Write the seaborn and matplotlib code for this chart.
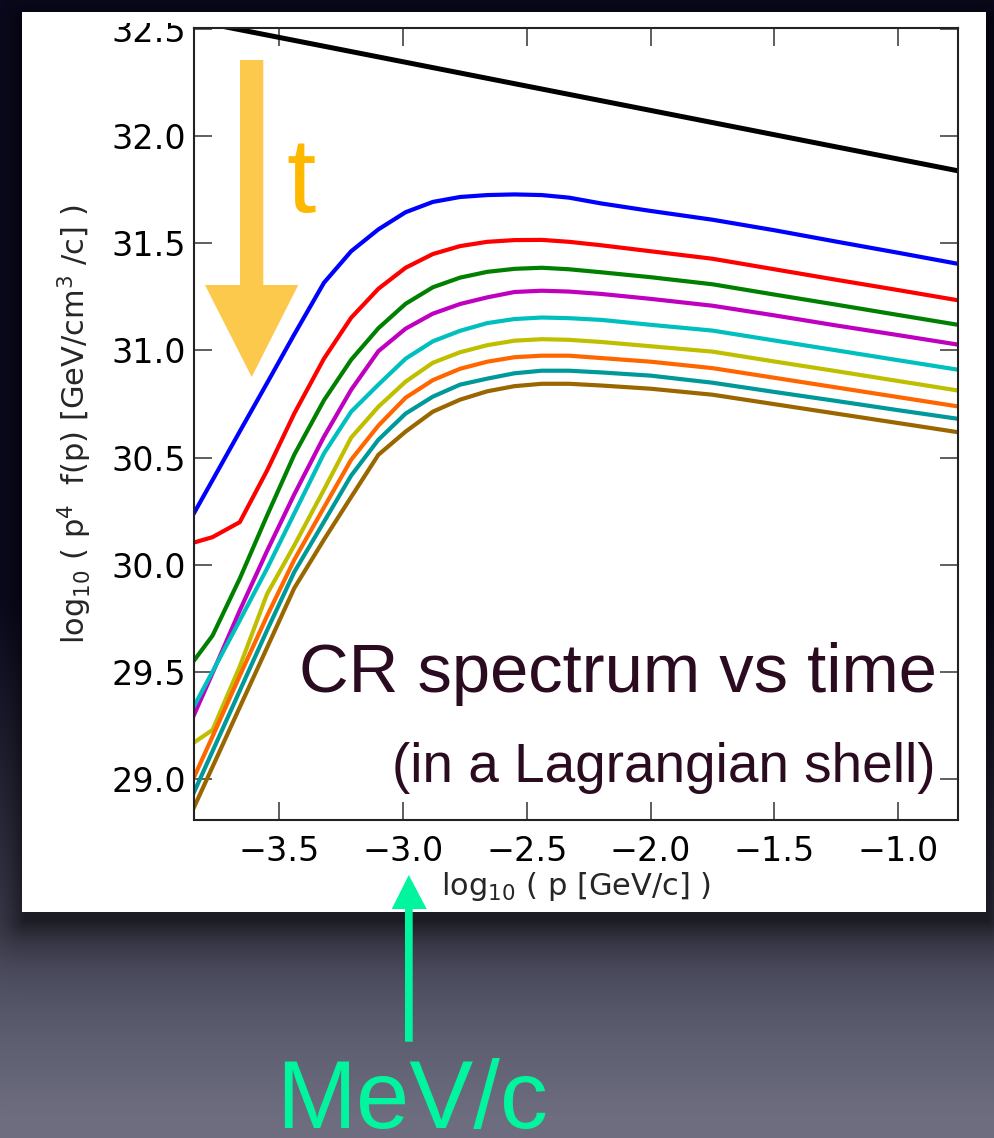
import numpy as np
import pandas as pd
import matplotlib
matplotlib.use("Agg")
import matplotlib.pyplot as plt
from matplotlib.patches import Polygon, Rectangle
import seaborn as sns

# ---------------- data ----------------
logp = [-3.88, -3.77, -3.66, -3.55, -3.44, -3.32, -3.21, -3.10, -2.99, -2.88, -2.77,
        -2.66, -2.55, -2.44, -2.33, -2.20, -2.00, -1.75, -1.50, -1.25, -1.00, -0.70]

blue = [30.169, 30.395, 30.622, 30.847, 31.074, 31.315, 31.462, 31.564, 31.644, 31.692, 31.715,
        31.724, 31.727, 31.724, 31.712, 31.685, 31.650, 31.609, 31.560, 31.507, 31.455, 31.391]
red = [30.092, 30.129, 30.199, 30.439, 30.705, 30.961, 31.152, 31.287, 31.385, 31.449, 31.486,
       31.506, 31.514, 31.515, 31.506, 31.490, 31.462, 31.427, 31.378, 31.329, 31.281, 31.222]
green = [29.499, 29.670, 29.936, 30.229, 30.513, 30.767, 30.956, 31.103, 31.217, 31.294, 31.339,
         31.366, 31.380, 31.385, 31.378, 31.364, 31.341, 31.308, 31.260, 31.213, 31.165, 31.108]
magenta = [29.209, 29.495, 29.787, 30.064, 30.328, 30.597, 30.816, 30.996, 31.101, 31.171, 31.216,
           31.247, 31.272, 31.278, 31.274, 31.263, 31.240, 31.208, 31.163, 31.116, 31.071, 31.016]
cyan = [29.265, 29.502, 29.741, 29.982, 30.239, 30.519, 30.714, 30.840, 30.961, 31.042, 31.091,
        31.127, 31.146, 31.153, 31.150, 31.142, 31.119, 31.092, 31.046, 31.000, 30.954, 30.899]
yellow = [29.144, 29.230, 29.526, 29.863, 30.090, 30.350, 30.593, 30.737, 30.854, 30.942, 30.991,
          31.024, 31.045, 31.052, 31.049, 31.039, 31.019, 30.994, 30.948, 30.903, 30.857, 30.802]
orange = [28.920, 29.200, 29.483, 29.761, 30.023, 30.267, 30.490, 30.649, 30.779, 30.861, 30.914,
          30.947, 30.968, 30.975, 30.975, 30.964, 30.947, 30.917, 30.872, 30.827, 30.782, 30.728]
teal = [28.850, 29.131, 29.413, 29.694, 29.966, 30.200, 30.416, 30.583, 30.705, 30.784, 30.840,
        30.868, 30.893, 30.905, 30.905, 30.897, 30.882, 30.849, 30.806, 30.764, 30.721, 30.671]
brown = [28.781, 29.058, 29.336, 29.613, 29.891, 30.117, 30.316, 30.513, 30.621, 30.714, 30.770,
         30.809, 30.833, 30.844, 30.844, 30.836, 30.821, 30.793, 30.749, 30.705, 30.661, 30.608]

black_x = [-3.88, -0.70]
black_y = [32.545, 31.824]

series_names = ["blue", "red", "green", "magenta", "cyan", "yellow", "orange", "teal", "brown"]
series_values = [blue, red, green, magenta, cyan, yellow, orange, teal, brown]
series_colors = ["#0000ff", "#ff0000", "#008000", "#bf00bf", "#00bfbf",
                 "#bfbf00", "#ff6600", "#009999", "#996600"]

x_ticks = [-3.5, -3.0, -2.5, -2.0, -1.5, -1.0]
y_ticks = [29.0, 29.5, 30.0, 30.5, 31.0, 31.5, 32.0, 32.5]

x_label = r"log$_{10}$ ( p [GeV/c] )"
y_label = r"log$_{10}$ ( p$^{4}$  f(p) [GeV/cm$^{3}$ /c] )"
title1 = "CR spectrum vs time"
title2 = "(in a Lagrangian shell)"
arrow_t = "t"
note = "MeV/c"

# ---------------- style ----------------
sns.set_style("ticks")
plt.rcParams["font.family"] = ["DejaVu Sans"]
plt.rcParams["mathtext.default"] = "regular"
plt.rcParams["axes.unicode_minus"] = True

W, H = 994, 1138
fig = plt.figure(figsize=(W / 100, H / 100), dpi=100)
fig.patch.set_facecolor("white")

# main axes
L, R, T, B = 194, 958, 28, 820
ax = fig.add_axes([L / W, 1 - B / H, (R - L) / W, (B - T) / H], zorder=1)
ax.set_facecolor("white")

rows = []
for name, vals in zip(series_names, series_values):
    for xv, yv in zip(logp, vals):
        rows.append({"logp": xv, "value": yv, "series": name})
df = pd.DataFrame(rows)

sns.lineplot(x=black_x, y=black_y, color="black", lw=3.6, ax=ax)
sns.lineplot(data=df, x="logp", y="value", hue="series", hue_order=series_names,
             palette=dict(zip(series_names, series_colors)), estimator=None, sort=False,
             lw=3.0, legend=False, ax=ax)

ax.set_xlim(-3.845, -0.758)
ax.set_ylim(28.81, 32.503)
ax.set_xticks(x_ticks)
ax.set_yticks(y_ticks)
ax.set_xticklabels([f"{v:.1f}".replace("-", "\u2212") for v in x_ticks])
ax.set_yticklabels([f"{v:.1f}" for v in y_ticks])
ax.tick_params(direction="in", length=13, width=1.1, color="#333333", labelsize=24,
               top=True, right=True, labelcolor="black")
ax.tick_params(axis="x", pad=11)
ax.tick_params(axis="y", pad=6)
for s in ax.spines.values():
    s.set_visible(True)
    s.set_linewidth(1.5)
    s.set_color("#222222")

ax.set_xlabel(x_label, fontsize=22)
ax.set_ylabel(y_label, fontsize=22)
ax.xaxis.set_label_coords(0.5, (B - 870) / (B - T))
ax.yaxis.set_label_coords((94 - L) / (R - L), 0.5)

# ---------------- slide background / paper ----------------
yy, xx = np.mgrid[0:H, 0:W].astype(float)
top_c = np.array([12, 12, 38]) / 255.0
bot_c = np.array([110, 110, 128]) / 255.0
t = np.clip((yy - 600) / 520.0, 0, 1)[..., None]
bg = top_c * (1 - t) + bot_c * t
px0, px1, py0, py1 = 22, 985, 12, 911
sx0, sx1, sy0, sy1 = px0 + 2, px1 + 3, py0 + 8, py1 + 10
dx = np.maximum(np.maximum(sx0 - xx, xx - sx1), 0)
dy = np.maximum(np.maximum(sy0 - yy, yy - sy1), 0)
d = np.hypot(dx, dy)
shade = 1 - 0.6 * np.exp(-d / 30.0)
bg = bg * shade[..., None]
alpha = np.ones((H, W))
inside = (xx >= px0) & (xx <= px1) & (yy >= py0) & (yy <= py1)
alpha[inside] = 0.0
rgba = np.dstack([bg, alpha])

ov = fig.add_axes([0, 0, 1, 1], zorder=3)
ov.set_xlim(0, W)
ov.set_ylim(H, 0)
ov.axis("off")
ov.patch.set_alpha(0)
ov.imshow(rgba, extent=(0, W, H, 0), aspect="auto", interpolation="bilinear", zorder=0)

# white strip at the top of the paper (crops the top of the plot image)
ov.add_patch(Rectangle((px0, py0), px1 - px0, 11, facecolor="white", edgecolor="none", zorder=1))

# yellow time arrow
ov.add_patch(Polygon([(240, 60), (263.3, 60), (263.3, 285), (298.3, 285), (251.7, 377),
                      (205, 285), (240, 285)], closed=True, facecolor="#fdc94c",
                     edgecolor="none", zorder=2))
ov.text(301, 212, arrow_t, color="#ffb800", fontsize=76, family="Liberation Sans",
        ha="center", va="baseline", zorder=3)

ov.text(937, 692, title1, color="#2b0b20", fontsize=49.5, family="Liberation Sans",
        ha="right", va="baseline", zorder=3)
ov.text(935, 782, title2, color="#2b0b20", fontsize=39.5, family="Liberation Sans",
        ha="right", va="baseline", zorder=3)

# green arrow and label
ov.add_patch(Polygon([(405, 1041.7), (412.7, 1041.7), (412.7, 909), (426.7, 909), (408.8, 875),
                      (391.7, 909), (405, 909)], closed=True, facecolor="#00f59e",
                     edgecolor="none", zorder=4))
ov.text(276, 1128, note, color="#00f59e", fontsize=69, family="Liberation Sans",
        ha="left", va="baseline", zorder=4)

fig.savefig("out.png", dpi=100)
